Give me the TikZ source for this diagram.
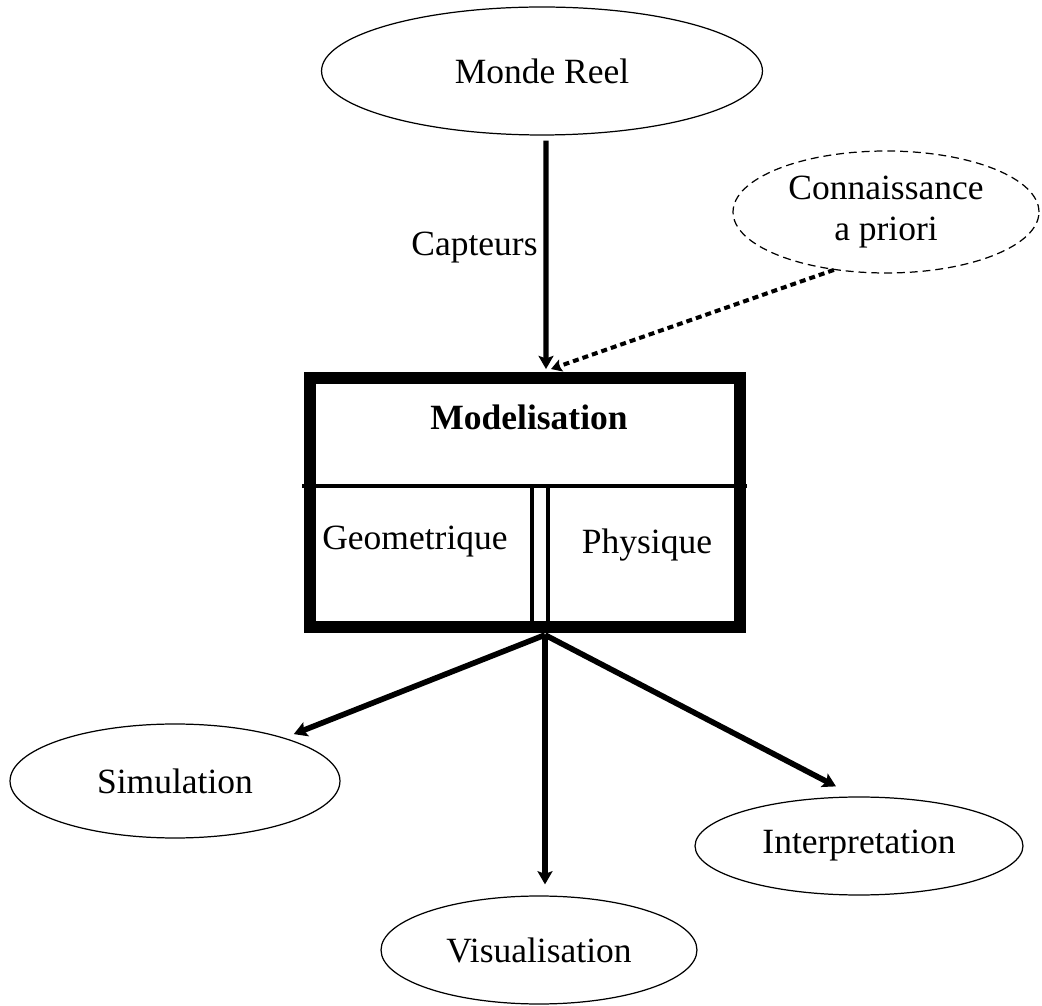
\documentclass[tikz,border=0pt]{standalone}
\usepackage{fontspec}
\setmainfont{Liberation Serif}
\usetikzlibrary{arrows.meta,shapes.geometric}

\begin{document}
\begin{tikzpicture}[x=0.02cm, y=-0.02cm,
    every node/.style={font=\fontsize{20.2pt}{23.5pt}\selectfont},
    bulle/.style={draw, ellipse, line width=0.7pt, inner sep=0pt},
    fleche/.style={-{Stealth[length=7.5pt,width=8.5pt,inset=1.5pt]}, line width=2.9pt},
    pointille/.style={-{Stealth[length=6pt,width=7pt,inset=1pt]}, line width=2.3pt, dash pattern=on 3.4pt off 2.3pt},
    cloison/.style={line width=2.2pt}]

    % Fix the page size
    \useasboundingbox (0,0) rectangle (1042,1006);

    % Draw the source and the prior knowledge
    \node[bulle, minimum width=8.82cm, minimum height=2.56cm] (monde) at (542,71) {Monde Reel};
    \node[bulle, dashed, dash pattern=on 4.5pt off 2.8pt, minimum width=6.12cm, minimum height=2.44cm, align=center] (conn) at (886,212) {Connaissance\\a priori};

    % Draw the modelling box
    \node[draw, line width=6.8pt, minimum width=8.6cm, minimum height=4.98cm, inner sep=0pt] (model) at (525,502.5) {};
    \node (titre) at (529,417) {\bfseries Modelisation};
    \node (geo) at (415,542) {Geometrique};
    \node (phys) at (647,545) {Physique};

    % Draw the partitions inside the box
    \draw[cloison] (302,486) -- (747,486);
    \draw[cloison] (532,486) -- (532,627);
    \draw[cloison] (548,486) -- (548,627);

    % Draw the outputs
    \node[bulle, minimum width=6.6cm, minimum height=2.28cm] (sim) at (175,781) {Simulation};
    \node[bulle, minimum width=6.32cm, minimum height=2.16cm] (vis) at (539,950) {Visualisation};
    \node[bulle, minimum width=6.56cm, minimum height=1.96cm] (interp) at (859,846) {Interpretation};

    % Draw the incoming arrows
    \draw[fleche] ([xshift=0.08cm,yshift=-0.1cm]monde.south) -- ([xshift=0.42cm,yshift=0.06cm]model.north) node[pos=0.47, left] {Capteurs};
    \draw[pointille] (conn.228) -- ([xshift=0.52cm,yshift=0.06cm]model.north);

    % Draw the outgoing arrows
    \draw[fleche, line width=3.2pt, shorten >=5.7pt] ([xshift=0.4cm,yshift=-0.04cm]model.south) -- (sim);
    \draw[fleche, line width=3.2pt] ([xshift=0.4cm,yshift=-0.04cm]model.south) -- ([xshift=0.12cm,yshift=0.22cm]vis.north);
    \draw[fleche, line width=3.2pt] ([xshift=0.4cm,yshift=-0.04cm]model.south) -- ([xshift=-0.46cm,yshift=0.2cm]interp.north);

\end{tikzpicture}
\end{document}
